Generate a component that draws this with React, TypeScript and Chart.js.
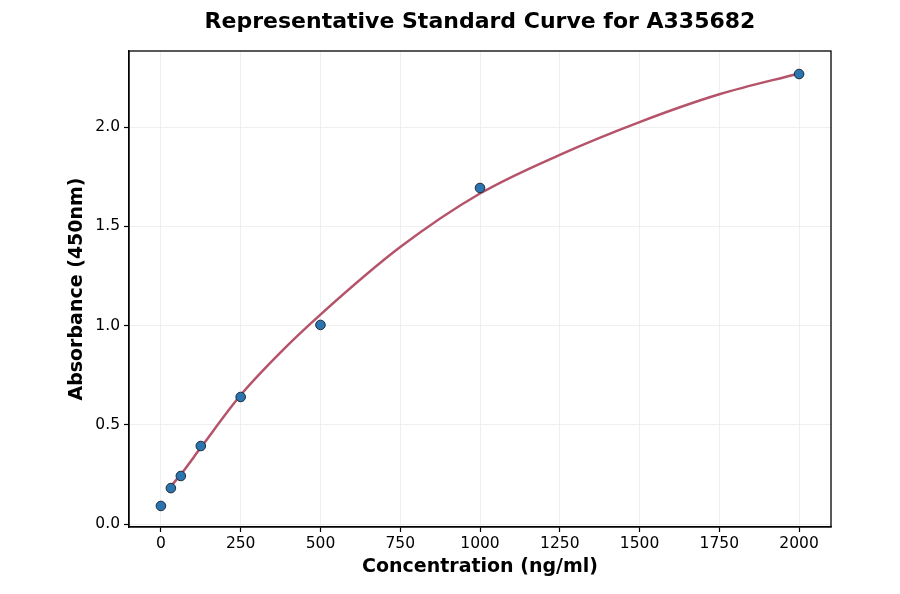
import { useEffect, useRef } from "react";
import { Chart, registerables, type ChartConfiguration, type Plugin } from "chart.js";

Chart.register(...registerables);

// measured standards (concentration in ng/ml, absorbance at 450nm)
const concentrations = [0, 31.25, 62.5, 125, 250, 500, 1000, 2000];
const absorbances = [0.091, 0.181, 0.242, 0.393, 0.64, 1.003, 1.693, 2.267];

// fitted curve
const curveX = [31.25, 62.5, 125, 250, 375, 500, 750, 1000, 1250, 1500, 1750, 2000];
const curveY = [0.19, 0.25, 0.385, 0.65, 0.865, 1.055, 1.395, 1.665, 1.86, 2.025, 2.165, 2.27];

const xTicks = [0, 250, 500, 750, 1000, 1250, 1500, 1750, 2000];
const yTicks = [0.0, 0.5, 1.0, 1.5, 2.0];

const FONT = "'DejaVu Sans', sans-serif";

// full black frame around the plot area
const framePlugin: Plugin<"scatter"> = {
    id: "frame",
    afterDraw: (chart) => {
        const { ctx, chartArea } = chart;
        ctx.save();
        ctx.strokeStyle = "#000";
        ctx.lineWidth = 1.3;
        ctx.strokeRect(
            chartArea.left,
            chartArea.top,
            chartArea.right - chartArea.left,
            chartArea.bottom - chartArea.top,
        );
        ctx.restore();
    },
};

const StandardCurve = () => {
    const canvasRef = useRef<HTMLCanvasElement>(null);
    const chartRef = useRef<Chart | null>(null);

    useEffect(() => {
        if (!canvasRef.current) return;
        chartRef.current?.destroy();

        const config: ChartConfiguration<"scatter"> = {
            type: "scatter",
            data: {
                datasets: [
                    {
                        label: "Standards",
                        data: concentrations.map((x, i) => ({ x, y: absorbances[i] })),
                        backgroundColor: "#2a74b0",
                        borderColor: "#1d2a3a",
                        borderWidth: 1,
                        pointRadius: 4.8,
                        order: 1,
                    },
                    {
                        label: "Fit",
                        type: "line",
                        data: curveX.map((x, i) => ({ x, y: curveY[i] })),
                        borderColor: "#b5536b",
                        borderWidth: 2.5,
                        pointRadius: 0,
                        cubicInterpolationMode: "monotone",
                        fill: false,
                        order: 2,
                    } as any,
                ],
            },
            options: {
                responsive: true,
                maintainAspectRatio: false,
                animation: false,
                layout: { padding: { top: 0, right: 69, bottom: 0, left: 0 } },
                plugins: {
                    legend: { display: false },
                    tooltip: { enabled: false },
                    title: {
                        display: true,
                        fullSize: false, // centre over the plot area
                        text: "Representative Standard Curve for A335682",
                        color: "#000",
                        font: { family: FONT, size: 22, weight: "bold", lineHeight: 1.2 },
                        padding: { top: 9, bottom: 15.6 },
                    },
                },
                scales: {
                    x: {
                        type: "linear",
                        min: -100,
                        max: 2100,
                        afterBuildTicks: (scale) => {
                            scale.ticks = xTicks.map((v) => ({ value: v }));
                        },
                        afterFit: (scale) => {
                            scale.height = 67;
                        },
                        ticks: {
                            color: "#000",
                            font: { family: FONT, size: 15.5 },
                            padding: 3,
                            maxRotation: 0,
                            callback: (v) => String(v),
                        },
                        grid: {
                            color: "#ebebeb",
                            lineWidth: 0.8,
                            tickColor: "#000",
                            tickLength: 5,
                            tickWidth: 1.2,
                        },
                        border: { display: true, color: "#000", width: 1.3 },
                        title: {
                            display: true,
                            text: "Concentration (ng/ml)",
                            color: "#000",
                            font: { family: FONT, size: 19, weight: "bold", lineHeight: 1.2 },
                            padding: { top: 0, bottom: 15.5 },
                        },
                    },
                    y: {
                        type: "linear",
                        min: -0.015,
                        max: 2.383,
                        afterBuildTicks: (scale) => {
                            scale.ticks = yTicks.map((v) => ({ value: v }));
                        },
                        afterFit: (scale) => {
                            scale.width = 129;
                        },
                        ticks: {
                            color: "#000",
                            font: { family: FONT, size: 15.5 },
                            padding: 4,
                            callback: (v) => Number(v).toFixed(1),
                        },
                        grid: {
                            color: "#ebebeb",
                            lineWidth: 0.8,
                            tickColor: "#000",
                            tickLength: 5,
                            tickWidth: 1.2,
                        },
                        border: { display: true, color: "#000", width: 1.3 },
                        title: {
                            display: true,
                            text: "Absorbance (450nm)",
                            color: "#000",
                            font: { family: FONT, size: 19, weight: "bold", lineHeight: 1.2 },
                            padding: { top: 65.5, bottom: 0 },
                        },
                    },
                },
            },
            plugins: [framePlugin],
        };

        chartRef.current = new Chart(canvasRef.current, config);

        return () => {
            chartRef.current?.destroy();
            chartRef.current = null;
        };
    }, []);

    return (
        <div
            style={{
                position: "fixed",
                top: 0,
                left: 0,
                width: "900px",
                height: "594px",
                background: "#fff",
            }}
        >
            <canvas ref={canvasRef} />
        </div>
    );
};

export default function App() {
    return <StandardCurve />;
}
